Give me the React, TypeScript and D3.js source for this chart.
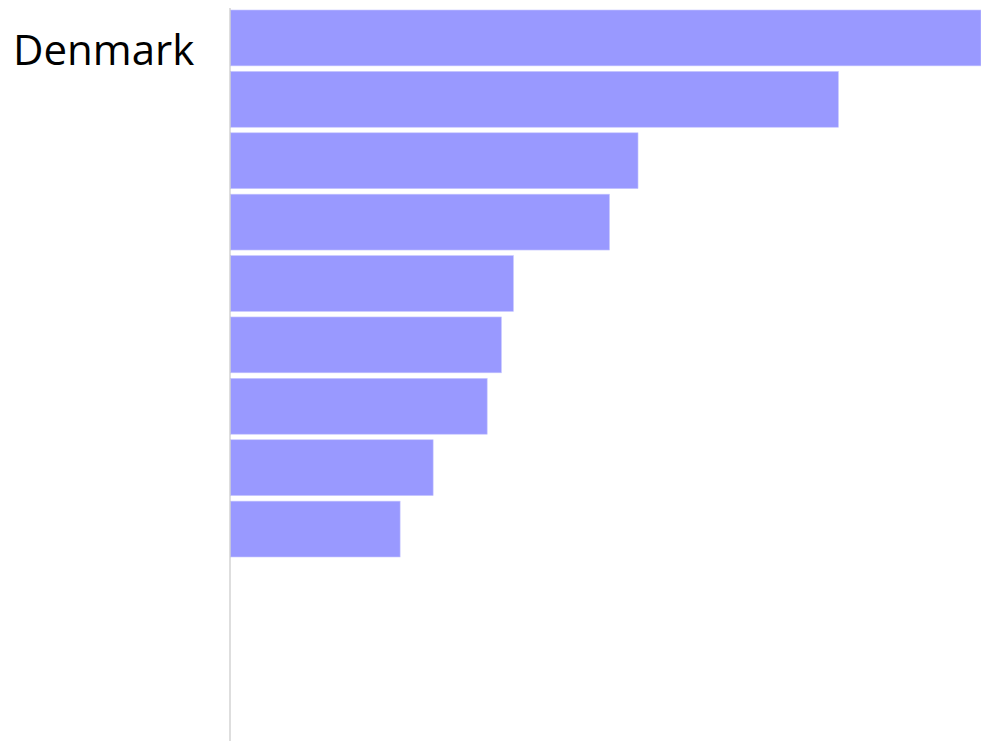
import React from "react";
import * as d3 from "d3";

// Data
const labels: string[] = ["Denmark"];
const values: number[] = [100, 81, 54.3, 50.5, 37.7, 36.1, 34.2, 27.0, 22.6];

const W = 981;
const H = 741;

export default function App() {
  const x = d3.scaleLinear().domain([0, d3.max(values) as number]).range([230.5, W]);
  const y = d3
    .scaleBand<number>()
    .domain(d3.range(values.length))
    .range([10, 557])
    .paddingInner(0.09)
    .paddingOuter(0);

  return (
    <div style={{ position: "fixed", left: 0, top: 0, width: W, height: H, background: "#fff", overflow: "hidden" }}>
      <svg width={W} height={H} style={{ display: "block" }}>
        <rect x={0} y={0} width={W} height={H} fill="#ffffff" />
        {values.map((v, i) => (
          <rect
            key={i}
            x={x(0)}
            y={y(i) as number}
            width={x(v) - x(0)}
            height={y.bandwidth()}
            fill="#9999ff"
            stroke="#c8c8ff"
            strokeWidth={0.6}
          />
        ))}
        <line x1={230} x2={230} y1={8} y2={H} stroke="#bdbdbd" strokeWidth={1} />
        {labels.map((l) => (
          <text
            key={l}
            x={13}
            y={65}
            fontFamily="'Open Sans', sans-serif"
            fontSize={42}
            fill="#000"
          >
            {l}
          </text>
        ))}
      </svg>
    </div>
  );
}
